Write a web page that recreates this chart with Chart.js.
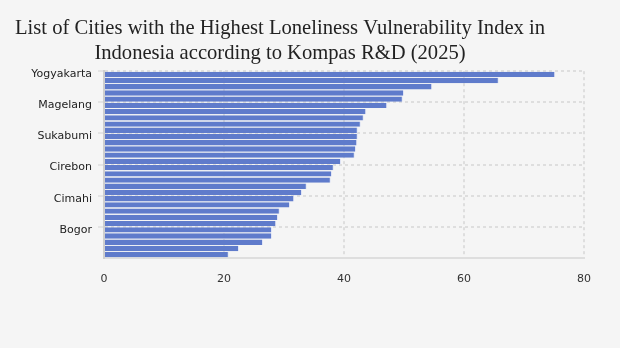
<!DOCTYPE html>
<html lang="en">
<head>
    <meta charset="UTF-8">
    <script src="https://cdn.jsdelivr.net/npm/chart.js"></script>
    <title>Loneliness Vulnerability Index</title>
    <style>
        html, body { margin: 0; padding: 0; background: #f5f5f5; }
        #wrap { width: 620px; height: 348px; }
    </style>
</head>
    <body>
        <div id="wrap"><canvas id="grafico"></canvas></div>

        <script>
            const cidades = [
                'Yogyakarta', 'Surakarta', 'Salatiga', 'Semarang', 'Denpasar',
                'Magelang', 'Malang', 'Bandung', 'Surabaya', 'Tegal',
                'Sukabumi', 'Madiun', 'Blitar', 'Kediri', 'Pekalongan',
                'Cirebon', 'Tasikmalaya', 'Depok', 'Bekasi', 'Banjar',
                'Cimahi', 'Mojokerto', 'Probolinggo', 'Pasuruan', 'Batu',
                'Bogor', 'Tangerang', 'Serang', 'Cilegon', 'Kupang'
            ];
            const indice = [
                75.2, 65.8, 54.7, 50.0, 49.8,
                47.2, 43.7, 43.3, 42.8, 42.3,
                42.3, 42.2, 42.0, 41.8, 39.5,
                38.3, 38.0, 37.8, 33.8, 33.0,
                31.7, 31.0, 29.3, 29.0, 28.7,
                28.0, 28.0, 26.5, 22.5, 20.8
            ];
            const ticksX = [0, 20, 40, 60, 80];
            const passoRotulo = 5;

            // move o título para a esquerda como no original
            const ajusteTitulo = {
                id: 'ajusteTitulo',
                afterLayout(chart) {
                    if (chart.titleBlock) {
                        chart.titleBlock.left = 0;
                        chart.titleBlock.right = 560;
                    }
                }
            };

            const ctx = document.getElementById('grafico').getContext('2d');

            new Chart(ctx, {
                type: 'bar',
                data: {
                    labels: cidades,
                    datasets: [{
                        label: 'Indeks',
                        data: indice,
                        backgroundColor: '#5f7bcb',
                        borderColor: '#dfe4f6',
                        borderWidth: { top: 0, bottom: 0, left: 0, right: 1 },
                        barPercentage: 0.86,
                        categoryPercentage: 1
                    }]
                },
                options: {
                    indexAxis: 'y',
                    responsive: true,
                    maintainAspectRatio: false,
                    animation: false,
                    layout: { padding: { left: 30, right: 36, top: 0, bottom: 47 } },
                    plugins: {
                        legend: { display: false },
                        tooltip: { enabled: false },
                        title: {
                            display: true,
                            text: ['List of Cities with the Highest Loneliness Vulnerability Index in',
                                   'Indonesia according to Kompas R&D (2025)'],
                            color: '#222',
                            font: { family: 'Liberation Serif', size: 20.6, weight: 'normal', lineHeight: 1.17 },
                            padding: { top: 17, bottom: 6 }
                        }
                    },
                    scales: {
                        x: {
                            min: 0,
                            max: 80,
                            afterBuildTicks(scale) {
                                scale.ticks = ticksX.map(v => ({ value: v }));
                            },
                            grid: { color: '#dedede', lineWidth: 2, drawTicks: false },
                            border: { display: true, color: '#dedede', width: 2, dash: [3, 3] },
                            ticks: {
                                color: '#333',
                                padding: 15,
                                font: { family: 'DejaVu Sans', size: 11 }
                            }
                        },
                        y: {
                            afterFit(scale) { scale.width = 74; },
                            grid: {
                                color: c => c.index % passoRotulo === 0 ? '#dedede' : 'rgba(0,0,0,0)',
                                lineWidth: 2,
                                tickLength: 6,
                                tickBorderDash: [],
                                tickColor: c => c.index % passoRotulo === 0 ? '#e4e4e4' : 'rgba(0,0,0,0)'
                            },
                            border: { display: true, color: '#cfcfcf', width: 2, dash: [3, 3] },
                            ticks: {
                                autoSkip: false,
                                color: '#222',
                                padding: 6,
                                font: { family: 'DejaVu Sans', size: 11 },
                                callback(val, i) { return i % passoRotulo === 0 ? this.getLabelForValue(val) : ''; }
                            }
                        }
                    }
                },
                plugins: [ajusteTitulo]
            });
        </script>
    </body>
</html>
